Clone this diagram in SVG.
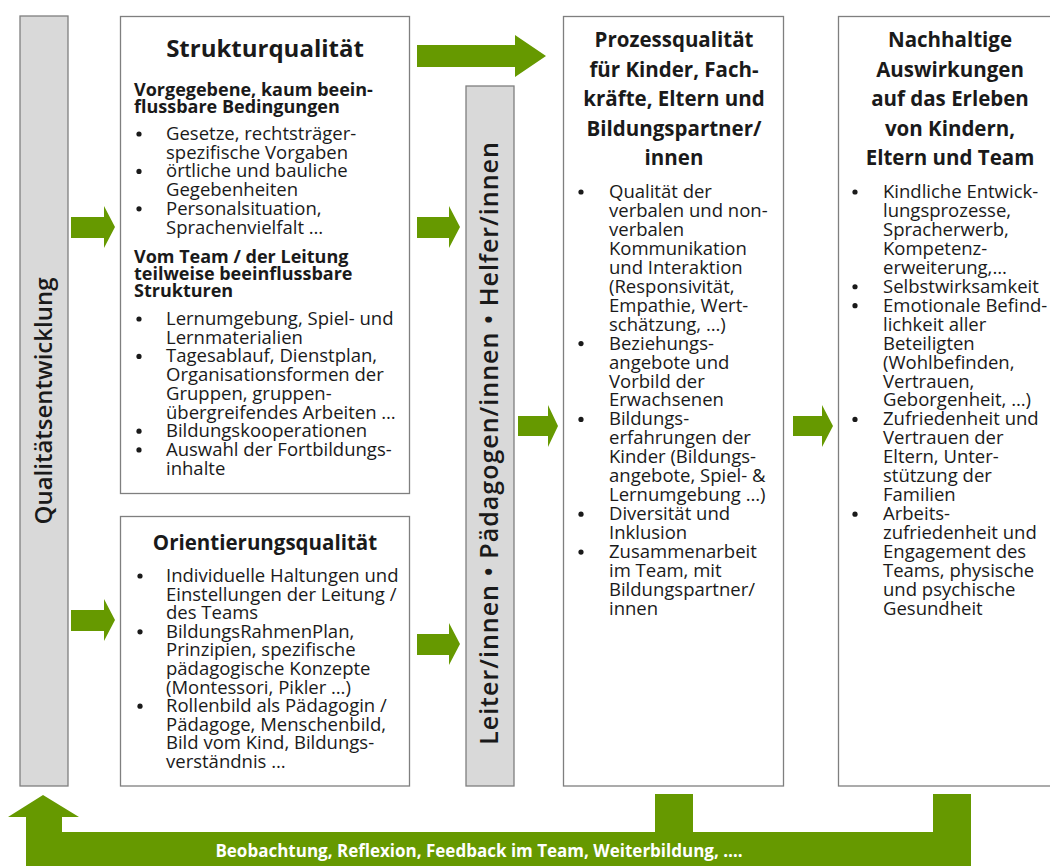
<svg xmlns="http://www.w3.org/2000/svg" width="1050" height="866" viewBox="0 0 1050 866">
<style>
.box{fill:#fff;stroke:#7f7f7f;stroke-width:1.3}
.bar{fill:#d9d9d9;stroke:#7f7f7f;stroke-width:1.3}
.arr{fill:#669900}
.dot{fill:#1a1a1a}
text{font-family:"Open Sans","Liberation Sans",sans-serif;fill:#1a1a1a}
.t{font-weight:700;text-anchor:middle}
.t24{font-size:24px}
.t20{font-size:20.5px}
.sub{font-weight:700;font-size:18px}
.b{font-size:18.5px}
.v{font-size:24px;font-weight:600;text-anchor:middle}
.v2{font-size:25px;font-weight:600;text-anchor:middle;letter-spacing:1px}
.fb{font-size:17px;font-weight:700;fill:#fff;text-anchor:middle}
</style>
<rect width="1050" height="866" fill="#fff"/>

<g id="qualitaetsentwicklung">
<rect class="bar" x="20" y="16" width="48" height="770"/>
<text class="v" transform="translate(44,401) rotate(-90)" y="8">Qualitätsentwicklung</text>
</g>

<g id="strukturqualitaet">
<rect class="box" x="120.5" y="16.5" width="289" height="477"/>
<text class="t t24" x="265" y="57">Strukturqualität</text>
<text class="sub" x="134" y="96">Vorgegebene, kaum beein-</text>
<text class="sub" x="134" y="113">flussbare Bedingungen</text>
<circle class="dot" cx="139" cy="134" r="2.6"/>
<text class="b" x="166" y="140">Gesetze, rechtsträger-</text>
<text class="b" x="166" y="158.7">spezifische Vorgaben</text>
<circle class="dot" cx="139" cy="171.4" r="2.6"/>
<text class="b" x="166" y="177.4">örtliche und bauliche</text>
<text class="b" x="166" y="196.1">Gegebenheiten</text>
<circle class="dot" cx="139" cy="208.8" r="2.6"/>
<text class="b" x="166" y="214.8">Personalsituation,</text>
<text class="b" x="166" y="233.5">Sprachenvielfalt …</text>
<text class="sub" x="134" y="263">Vom Team / der Leitung</text>
<text class="sub" x="134" y="280">teilweise beeinflussbare</text>
<text class="sub" x="134" y="297">Strukturen</text>
<circle class="dot" cx="139" cy="319" r="2.6"/>
<text class="b" x="166" y="325">Lernumgebung, Spiel- und</text>
<text class="b" x="166" y="343.7">Lernmaterialien</text>
<circle class="dot" cx="139" cy="356.4" r="2.6"/>
<text class="b" x="166" y="362.4">Tagesablauf, Dienstplan,</text>
<text class="b" x="166" y="381.1">Organisationsformen der</text>
<text class="b" x="166" y="399.8">Gruppen, gruppen-</text>
<text class="b" x="166" y="418.5">übergreifendes Arbeiten …</text>
<circle class="dot" cx="139" cy="431.2" r="2.6"/>
<text class="b" x="166" y="437.2">Bildungskooperationen</text>
<circle class="dot" cx="139" cy="449.9" r="2.6"/>
<text class="b" x="166" y="455.9">Auswahl der Fortbildungs-</text>
<text class="b" x="166" y="474.6">inhalte</text>
</g>

<g id="orientierungsqualitaet">
<rect class="box" x="120.5" y="516.5" width="289" height="269.5"/>
<text class="t t20" x="265" y="550">Orientierungsqualität</text>
<circle class="dot" cx="140" cy="576" r="2.6"/>
<text class="b" x="166" y="582">Individuelle Haltungen und</text>
<text class="b" x="166" y="600.6">Einstellungen der Leitung /</text>
<text class="b" x="166" y="619.2">des Teams</text>
<circle class="dot" cx="140" cy="631.8" r="2.6"/>
<text class="b" x="166" y="637.8">BildungsRahmenPlan,</text>
<text class="b" x="166" y="656.4">Prinzipien, spezifische</text>
<text class="b" x="166" y="675">pädagogische Konzepte</text>
<text class="b" x="166" y="693.6">(Montessori, Pikler …)</text>
<circle class="dot" cx="140" cy="706.2" r="2.6"/>
<text class="b" x="166" y="712.2">Rollenbild als Pädagogin /</text>
<text class="b" x="166" y="730.8">Pädagoge, Menschenbild,</text>
<text class="b" x="166" y="749.4">Bild vom Kind, Bildungs-</text>
<text class="b" x="166" y="768">verständnis …</text>
</g>

<g id="personal">
<rect class="bar" x="466" y="86" width="48" height="700"/>
<text class="v2" transform="translate(490,443) rotate(-90)" y="8">Leiter/innen • Pädagogen/innen • Helfer/innen</text>
</g>

<g id="prozessqualitaet">
<rect class="box" x="563.5" y="16.5" width="220" height="769.5"/>
<text class="t t20" x="674" y="47">Prozessqualität</text>
<text class="t t20" x="674" y="76.5">für Kinder, Fach-</text>
<text class="t t20" x="674" y="106">kräfte, Eltern und</text>
<text class="t t20" x="674" y="135.5">Bildungspartner/</text>
<text class="t t20" x="674" y="165">innen</text>
<circle class="dot" cx="581" cy="192" r="2.6"/>
<text class="b" x="609" y="198">Qualität der</text>
<text class="b" x="609" y="216.95">verbalen und non-</text>
<text class="b" x="609" y="235.9">verbalen</text>
<text class="b" x="609" y="254.85">Kommunikation</text>
<text class="b" x="609" y="273.8">und Interaktion</text>
<text class="b" x="609" y="292.75">(Responsivität,</text>
<text class="b" x="609" y="311.7">Empathie, Wert-</text>
<text class="b" x="609" y="330.65">schätzung, …)</text>
<circle class="dot" cx="581" cy="343.6" r="2.6"/>
<text class="b" x="609" y="349.6">Beziehungs-</text>
<text class="b" x="609" y="368.55">angebote und</text>
<text class="b" x="609" y="387.5">Vorbild der</text>
<text class="b" x="609" y="406.45">Erwachsenen</text>
<circle class="dot" cx="581" cy="419.4" r="2.6"/>
<text class="b" x="609" y="425.4">Bildungs-</text>
<text class="b" x="609" y="444.35">erfahrungen der</text>
<text class="b" x="609" y="463.3">Kinder (Bildungs-</text>
<text class="b" x="609" y="482.25">angebote, Spiel- &amp;</text>
<text class="b" x="609" y="501.2">Lernumgebung …)</text>
<circle class="dot" cx="581" cy="514.15" r="2.6"/>
<text class="b" x="609" y="520.15">Diversität und</text>
<text class="b" x="609" y="539.1">Inklusion</text>
<circle class="dot" cx="581" cy="552.05" r="2.6"/>
<text class="b" x="609" y="558.05">Zusammenarbeit</text>
<text class="b" x="609" y="577">im Team, mit</text>
<text class="b" x="609" y="595.95">Bildungspartner/</text>
<text class="b" x="609" y="614.9">innen</text>
</g>

<g id="nachhaltige-auswirkungen">
<rect class="box" x="838.5" y="16.5" width="230" height="769.5"/>
<text class="t t20" x="950" y="47">Nachhaltige</text>
<text class="t t20" x="950" y="76.5">Auswirkungen</text>
<text class="t t20" x="950" y="106">auf das Erleben</text>
<text class="t t20" x="950" y="135.5">von Kindern,</text>
<text class="t t20" x="950" y="165">Eltern und Team</text>
<circle class="dot" cx="855" cy="192" r="2.6"/>
<text class="b" x="883" y="198">Kindliche Entwick-</text>
<text class="b" x="883" y="216.95">lungsprozesse,</text>
<text class="b" x="883" y="235.9">Spracherwerb,</text>
<text class="b" x="883" y="254.85">Kompetenz-</text>
<text class="b" x="883" y="273.8">erweiterung,…</text>
<circle class="dot" cx="855" cy="286.75" r="2.6"/>
<text class="b" x="883" y="292.75">Selbstwirksamkeit</text>
<circle class="dot" cx="855" cy="305.7" r="2.6"/>
<text class="b" x="883" y="311.7">Emotionale Befind-</text>
<text class="b" x="883" y="330.65">lichkeit aller</text>
<text class="b" x="883" y="349.6">Beteiligten</text>
<text class="b" x="883" y="368.55">(Wohlbefinden,</text>
<text class="b" x="883" y="387.5">Vertrauen,</text>
<text class="b" x="883" y="406.45">Geborgenheit, …)</text>
<circle class="dot" cx="855" cy="419.4" r="2.6"/>
<text class="b" x="883" y="425.4">Zufriedenheit und</text>
<text class="b" x="883" y="444.35">Vertrauen der</text>
<text class="b" x="883" y="463.3">Eltern, Unter-</text>
<text class="b" x="883" y="482.25">stützung der</text>
<text class="b" x="883" y="501.2">Familien</text>
<circle class="dot" cx="855" cy="514.15" r="2.6"/>
<text class="b" x="883" y="520.15">Arbeits-</text>
<text class="b" x="883" y="539.1">zufriedenheit und</text>
<text class="b" x="883" y="558.05">Engagement des</text>
<text class="b" x="883" y="577">Teams, physische</text>
<text class="b" x="883" y="595.95">und psychische</text>
<text class="b" x="883" y="614.9">Gesundheit</text>
</g>

<g id="connectors">
<polygon class="arr" points="71,217 104,217 104,206 115,227 104,248 104,238 71,238"/>
<polygon class="arr" points="71,610 104,610 104,599 115,620 104,641 104,631 71,631"/>
<polygon class="arr" points="417,217 449,217 449,206 460,227 449,248 449,238 417,238"/>
<polygon class="arr" points="417,634 449,634 449,623 460,644 449,665 449,655 417,655"/>
<polygon class="arr" points="417,45 515,45 515,35 546,56 515,77 515,67 417,67"/>
<polygon class="arr" points="518,416 548,416 548,405 558,426 548,447 548,436 518,436"/>
<polygon class="arr" points="793,416 822,416 822,405 833,426 822,447 822,436 793,436"/>
<polygon class="arr" points="43,795 79,817 62,817 62,832 655,832 655,794 693,794 693,832 933,832 933,794 971,794 971,866 26,866 26,817 8,817"/>
<text class="fb" x="479" y="857">Beobachtung, Reflexion, Feedback im Team, Weiterbildung, ….</text>
</g>
</svg>
